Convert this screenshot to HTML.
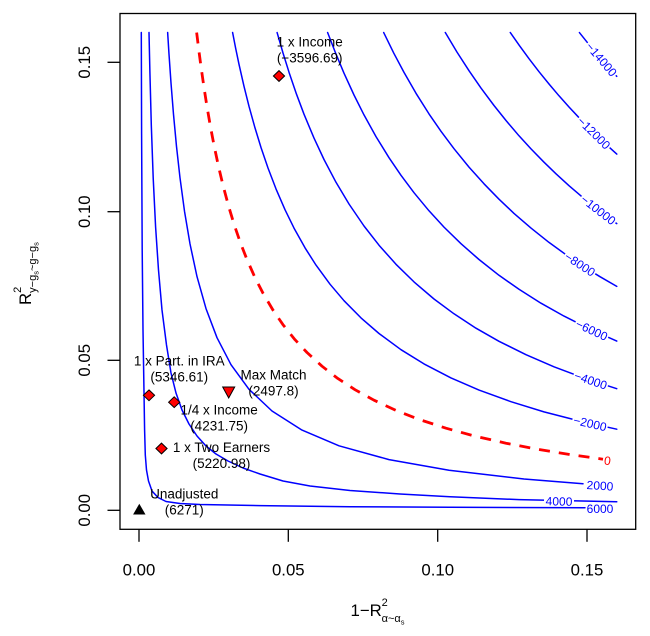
<!DOCTYPE html>
<html>
<head>
<meta charset="utf-8">
<style>
  html, body { margin: 0; padding: 0; background: #ffffff; }
  svg { display: block; }
  text { font-family: "Liberation Sans", Arial, sans-serif; }
</style>
</head>
<body>
<svg width="650" height="636" viewBox="0 0 650 636" xmlns="http://www.w3.org/2000/svg">
  <rect x="0" y="0" width="650" height="636" fill="#ffffff"/>

  <!-- contour lines -->
  <g fill="none" stroke="#0000ff" stroke-width="1.5" stroke-linejoin="round" stroke-linecap="round">
    <!-- -14000 -->
    <polyline points="579.4,32.54 587.6,42.8 598,55.3 607,65.6 616.76,76.35"/>
    <!-- -12000 -->
    <polyline points="510.3,32.54 519.5,45.7 529,58.7 539,71.7 549,84.0 559,95.8 569,107.0 581,119.8 594,132.9 605,143.4 616.76,154.1"/>
    <!-- -10000 -->
    <polyline points="445.3,32.54 457,52.1 469,70.7 481,88.1 494,105.5 506,120.5 519,135.8 531,148.9 544,162.2 556,173.8 569,185.7 581,195.9 594,206.5 605,215.0 616.76,223.6"/>
    <!-- -8000 -->
    <polyline points="383.7,32.54 393.8,53.2 404,72.4 416,93.3 429,113.9 441,131.3 454,148.7 469,167.1 484,183.8 499,199.2 514,213.4 531,228.1 549,242.4 566,254.7 584,266.8 600,276.7 616.76,286.4"/>
    <!-- -6000 -->
    <polyline points="327.6,32.54 335.8,53.6 344,73.2 354,95.0 364,114.9 376,136.6 389,157.7 401,175.3 414,192.7 429,210.8 444,227.1 461,243.7 479,259.5 499,275.3 519,289.3 541,303.2 564,316.1 590,329.2 616.76,341.1"/>
    <!-- -4000 -->
    <polyline points="277.1,32.54 283,53.0 289,72.2 296.5,94.2 304,114.2 314,138.1 324,159.5 336,182.3 349,204.0 364,226.0 379,245.2 396,264.3 414,281.9 434,299.0 454,313.8 476,328.2 499,341.3 526,354.7 554,366.8 585,378.4 616.76,388.7"/>
    <!-- -2000 -->
    <polyline points="232.6,32.54 235.7,48.5 239,64.3 244,86.3 249,106.3 255,127.9 261,147.5 268,168.0 276,188.9 285,209.7 294,228.1 305,247.8 316,265.1 330,284.2 344,300.7 361,317.9 379,333.5 401,349.7 424,363.9 451,377.9 479,390.1 511,401.7 544,411.9 579,420.9 616.76,429.2"/>
    <!-- 2000 -->
    <polyline points="167.65,32.54 169,54.2 171,83.0 173.5,114.3 176.5,146.4 180,177.8 184.5,211.2 190,243.9 197,276.6 206,308.6 217,337.7 231,364.7 249,389.3 272,411.0 302,430.1 339,445.8 389,459.6 449,470.3 524,479.0 583,483.8"/>
    <!-- 4000 -->
    <polyline points="149,32.54 149.9,72 151.3,125 153.2,178 155.6,227 158.5,270 162,310 166.5,345 171,373 176,393 182,410 189,424 197,436 206,446 216,454 228,461 243,468 260,474 283,481 310,486 350,490.5 400,494 450,496.8 519,499.6 616.76,501.8"/>
    <!-- 6000 -->
    <polyline points="141.3,32.54 141.6,134 142.2,250 143,330 143.8,380 144.6,430 145.3,455 146.5,470 148.5,481 152,491 158,497.5 166,501.5 180,503.5 200,504.5 260,505.6 350,506.7 450,507.3 585,507.7"/>
  </g>

  <!-- zero contour (red dashed) -->
  <polyline fill="none" stroke="#ff0000" stroke-width="2.8" stroke-dasharray="11 9" stroke-linejoin="round"
    points="196.65,32.54 198.8,50.0 201,66.7 204,87.6 207,106.7 210.5,126.9 214,145.2 218.5,166.4 223,185.3 228.5,205.9 234,224.1 240.5,243.0 247,259.6 255,277.6 263,293.2 273,310.1 283,324.7 295,339.7 307,352.5 322,366.2 337,377.9 355,389.7 374,400.2 396,410.4 419,419.4 446,428.2 474,435.9 506,443.2 539,449.5 571,454.7 603,459.2"/>

  <!-- contour labels -->
  <g font-size="12" fill="#0000ff" text-anchor="middle">
    <g transform="translate(601.5,59.3) rotate(49.5)"><rect x="-21.5" y="-5" width="43" height="10" fill="#ffffff"/><text x="0" y="4.3">−14000</text></g>
    <g transform="translate(594,132.9) rotate(44.4)"><rect x="-21.5" y="-5" width="43" height="10" fill="#ffffff"/><text x="0" y="4.3">−12000</text></g>
    <g transform="translate(598.3,209.8) rotate(37.7)"><rect x="-21.5" y="-5" width="43" height="10" fill="#ffffff"/><text x="0" y="4.3">−10000</text></g>
    <g transform="translate(580,264.2) rotate(33.2)"><rect x="-18" y="-5" width="36" height="10" fill="#ffffff"/><text x="0" y="4.3">−8000</text></g>
    <g transform="translate(591.7,330) rotate(25.1)"><rect x="-18" y="-5" width="36" height="10" fill="#ffffff"/><text x="0" y="4.3">−6000</text></g>
    <g transform="translate(590.7,380.3) rotate(18.7)"><rect x="-18" y="-5" width="36" height="10" fill="#ffffff"/><text x="0" y="4.3">−4000</text></g>
    <g transform="translate(590,423.4) rotate(12.8)"><rect x="-18" y="-5" width="36" height="10" fill="#ffffff"/><text x="0" y="4.3">−2000</text></g>
    <g transform="translate(607.5,460.5) rotate(7.3)"><text x="0" y="4.3" fill="#ff0000">0</text></g>
    <g transform="translate(600,485.5) rotate(3.7)"><text x="0" y="4.3">2000</text></g>
    <g transform="translate(559,501.2) rotate(1.5)"><rect x="-15" y="-4.5" width="30" height="9" fill="#ffffff"/><text x="0" y="4.3">4000</text></g>
    <g transform="translate(600,508.5)"><text x="0" y="4.3">6000</text></g>
  </g>

  <!-- point markers -->
  <g stroke="#000000" stroke-width="1" fill="#ff0000" stroke-linejoin="miter">
    <polygon points="279,70.6 284.6,76 279,81.4 273.4,76"/>
    <polygon points="149,389.9 154.6,395.3 149,400.7 143.4,395.3"/>
    <polygon points="174.2,396.8 179.8,402.2 174.2,407.6 168.6,402.2"/>
    <polygon points="161.5,443.1 167.1,448.5 161.5,453.9 155.9,448.5"/>
    <polygon points="222.7,387 234.7,387 228.7,398"/>
  </g>
  <polygon points="139.3,503.7 145.5,514.5 133.1,514.5" fill="#000000"/>

  <!-- point labels -->
  <g font-size="13.5" fill="#000000" text-anchor="middle">
    <text x="309.7" y="46.7">1 x Income</text>
    <text x="309.7" y="62.7">(−3596.69)</text>
    <text x="179.3" y="365.3">1 x Part. in IRA</text>
    <text x="179.3" y="381.3">(5346.61)</text>
    <text x="273.5" y="379.3">Max Match</text>
    <text x="273.5" y="395.3">(2497.8)</text>
    <text x="219.1" y="414.7">1/4 x Income</text>
    <text x="219.1" y="430.7">(4231.75)</text>
    <text x="221.5" y="452">1 x Two Earners</text>
    <text x="221.5" y="468">(5220.98)</text>
    <text x="184.3" y="498.7">Unadjusted</text>
    <text x="184.3" y="514.7">(6271)</text>
  </g>

  <!-- frame -->
  <rect x="120" y="13.5" width="515.7" height="515.8" fill="none" stroke="#000000" stroke-width="1.3"/>

  <!-- ticks -->
  <g stroke="#000000" stroke-width="1.3">
    <line x1="139" y1="529.3" x2="139" y2="541.8"/>
    <line x1="288.3" y1="529.3" x2="288.3" y2="541.8"/>
    <line x1="437.7" y1="529.3" x2="437.7" y2="541.8"/>
    <line x1="587" y1="529.3" x2="587" y2="541.8"/>
    <line x1="107.5" y1="510.3" x2="120" y2="510.3"/>
    <line x1="107.5" y1="360.3" x2="120" y2="360.3"/>
    <line x1="107.5" y1="211.7" x2="120" y2="211.7"/>
    <line x1="107.5" y1="62.3" x2="120" y2="62.3"/>
  </g>

  <!-- tick labels -->
  <g font-size="16.8" fill="#000000" text-anchor="middle">
    <text x="139" y="575.3">0.00</text>
    <text x="288.3" y="575.3">0.05</text>
    <text x="437.7" y="575.3">0.10</text>
    <text x="587" y="575.3">0.15</text>
    <text transform="translate(90,510.3) rotate(-90)">0.00</text>
    <text transform="translate(90,360.3) rotate(-90)">0.05</text>
    <text transform="translate(90,211.7) rotate(-90)">0.10</text>
    <text transform="translate(90,62.3) rotate(-90)">0.15</text>
  </g>

  <!-- x axis title -->
  <g fill="#000000">
    <text x="350.5" y="616" font-size="16.8">1−R</text>
    <text x="381.6" y="606" font-size="11">2</text>
    <text x="381.6" y="622" font-size="11">α~α<tspan font-size="7.5" dy="2.5">s</tspan></text>
  </g>

  <!-- y axis title -->
  <g fill="#000000" transform="translate(31,305) rotate(-90)">
    <text x="0" y="0" font-size="16.8">R</text>
    <text x="12.2" y="-10" font-size="11">2</text>
    <text x="12.2" y="5" font-size="11">y−g<tspan font-size="7.5" dy="2.5">s</tspan><tspan dy="-2.5">~g−g</tspan><tspan font-size="7.5" dy="2.5">s</tspan></text>
  </g>
</svg>
</body>
</html>
